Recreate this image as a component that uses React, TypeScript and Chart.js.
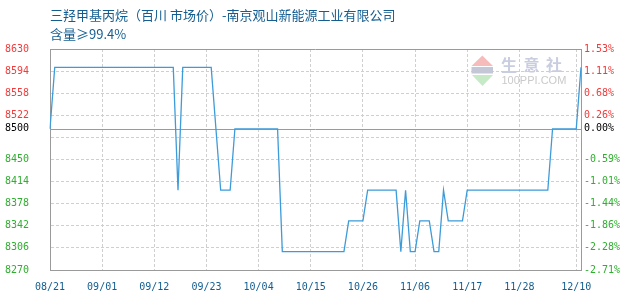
import { useEffect, useRef } from "react";
import { Chart, registerables } from "chart.js";

Chart.register(...registerables);

const TITLE = "三羟甲基丙烷（百川 市场价）-南京观山新能源工业有限公司";
const SUBTITLE = "含量≥99.4%";

// first trading day of the series (UTC), one price per calendar day after it
const START = { year: 2019, month: 8, day: 21 };

// daily market price, yuan/ton
const prices = [
  8500, 8600, 8600, 8600, 8600, 8600, 8600, 8600, 8600, 8600,
  8600, 8600, 8600, 8600, 8600, 8600, 8600, 8600, 8600, 8600,
  8600, 8600, 8600, 8600, 8600, 8600, 8600, 8400, 8600, 8600,
  8600, 8600, 8600, 8600, 8600, 8500, 8400, 8400, 8400, 8500,
  8500, 8500, 8500, 8500, 8500, 8500, 8500, 8500, 8500, 8300,
  8300, 8300, 8300, 8300, 8300, 8300, 8300, 8300, 8300, 8300,
  8300, 8300, 8300, 8350, 8350, 8350, 8350, 8400, 8400, 8400,
  8400, 8400, 8400, 8400, 8300, 8400, 8300, 8300, 8350, 8350,
  8350, 8300, 8300, 8400, 8350, 8350, 8350, 8350, 8400, 8400,
  8400, 8400, 8400, 8400, 8400, 8400, 8400, 8400, 8400, 8400,
  8400, 8400, 8400, 8400, 8400, 8400, 8500, 8500, 8500, 8500,
  8500, 8500, 8600,
];

const xTickLabels = [
  "08/21", "09/01", "09/12", "09/23", "10/04", "10/15",
  "10/26", "11/06", "11/17", "11/28", "12/10",
];

const yGridValues = [
  8630, 8594, 8558, 8522, 8486, 8450, 8414, 8378, 8342, 8306, 8270,
];

const Y_MIN = 8270;
const Y_MAX = 8630;

const BASE = prices[0];

const RED = "#f23a3a";
const GREEN = "#2fae2f";
const BLUE_TEXT = "#135d90";
const LINE = "#3d9bd9";
const GRID = "#cfcfcf";
const FRAME = "#9a9a9a";
const MONO = "'DejaVu Sans Mono', monospace";
const CJK = "'Noto Sans CJK SC', sans-serif";

function buildDates(count: number): string[] {
  const out: string[] = [];
  const t0 = Date.UTC(START.year, START.month - 1, START.day);
  for (let i = 0; i < count; i++) {
    const d = new Date(t0 + i * 86400000);
    const mm = String(d.getUTCMonth() + 1).padStart(2, "0");
    const dd = String(d.getUTCDate()).padStart(2, "0");
    out.push(`${mm}/${dd}`);
  }
  return out;
}

const dates = buildDates(prices.length);

// y ticks: the regular grid plus the base price; grid values too close to
// the base are kept as lines but left unlabeled
const yTickValues = [...yGridValues, BASE].sort((a, b) => b - a);
const isHiddenLabel = (v: number) => v !== BASE && Math.abs(v - BASE) < 20;

const tickColor = (v: number) => (v > BASE ? RED : v < BASE ? GREEN : "#000");

const pct = (v: number) => (((v - BASE) / BASE) * 100).toFixed(2) + "%";

const decorPlugin = {
  id: "decor",
  beforeDraw(chart: any) {
    const { ctx } = chart;
    ctx.save();
    ctx.fillStyle = "#ffffff";
    ctx.fillRect(0, 0, chart.width, chart.height);
    ctx.fillStyle = BLUE_TEXT;
    ctx.textBaseline = "middle";
    ctx.textAlign = "left";
    ctx.font = `13px ${CJK}`;
    ctx.fillText(TITLE, 50, 15);
    ctx.fillText(SUBTITLE, 50, 34.5);
    ctx.restore();
  },
  beforeDatasetsDraw(chart: any) {
    const { ctx, chartArea: a, scales } = chart;
    ctx.save();

    // site mark
    ctx.fillStyle = "#f6bcbc";
    ctx.beginPath();
    ctx.moveTo(471.5, 66);
    ctx.lineTo(493, 66);
    ctx.lineTo(482.3, 55.5);
    ctx.closePath();
    ctx.fill();
    ctx.fillStyle = "#c3c7d6";
    ctx.fillRect(471.5, 67, 21.5, 6.5);
    ctx.fillStyle = "#c6eac6";
    ctx.beginPath();
    ctx.moveTo(472, 75);
    ctx.lineTo(493, 75);
    ctx.lineTo(482.5, 86);
    ctx.closePath();
    ctx.fill();
    ctx.fillStyle = "#c9cde0";
    ctx.font = `bold 16px ${CJK}`;
    ctx.textBaseline = "middle";
    ctx.textAlign = "left";
    ["生", "意", "社"].forEach((ch, i) => ctx.fillText(ch, 501 + i * 22.5, 65));
    ctx.fillStyle = "#cacaca";
    ctx.font = "11px 'Liberation Sans', sans-serif";
    ctx.fillText("100PPI.COM", 501.5, 80.5);

    // base price line and top edge of the plot frame
    ctx.strokeStyle = FRAME;
    ctx.lineWidth = 1;
    const yb = Math.round(scales.y.getPixelForValue(BASE)) + 0.5;
    ctx.beginPath();
    ctx.moveTo(a.left, yb);
    ctx.lineTo(a.right, yb);
    const yt = Math.round(a.top) + 0.5;
    ctx.moveTo(a.left, yt);
    ctx.lineTo(a.right, yt);
    ctx.stroke();
    ctx.restore();
  },
};

function yScaleCommon() {
  return {
    type: "linear" as const,
    min: Y_MIN,
    max: Y_MAX,
    afterBuildTicks: (s: any) => {
      s.ticks = yTickValues.map((v) => ({ value: v }));
    },
  };
}

export default function App() {
  const ref = useRef<HTMLCanvasElement | null>(null);

  useEffect(() => {
    document.body.style.margin = "0";
    const canvas = ref.current;
    if (!canvas) return;

    const chart = new Chart(canvas, {
      type: "line",
      data: {
        labels: dates,
        datasets: [
          {
            data: prices,
            borderColor: LINE,
            borderWidth: 1.3,
            pointRadius: 0,
            tension: 0,
            fill: false,
            yAxisID: "y",
          },
        ],
      },
      options: {
        responsive: false,
        animation: false,
        events: [],
        layout: { padding: { left: 5, top: 49, right: 0, bottom: 0 } },
        plugins: {
          legend: { display: false },
          tooltip: { enabled: false },
          title: { display: false },
        },
        scales: {
          x: {
            type: "category",
            offset: false,
            afterBuildTicks: (s: any) => {
              s.ticks = s.ticks.filter((t: any) =>
                xTickLabels.includes(dates[t.value])
              );
            },
            afterFit: (s: any) => {
              s.height = 30;
            },
            grid: {
              color: (c: any) =>
                c.tick && c.tick.value === 0 ? "rgba(0,0,0,0)" : GRID,
              lineWidth: 1,
              drawTicks: false,
            },
            border: { display: true, color: FRAME, width: 1, dash: [3, 2] },
            ticks: {
              autoSkip: false,
              maxRotation: 0,
              minRotation: 0,
              padding: 11,
              color: BLUE_TEXT,
              font: { family: MONO, size: 10 },
            },
          },
          y: {
            ...yScaleCommon(),
            position: "left",
            afterFit: (s: any) => {
              s.width = 45;
            },
            grid: {
              color: (c: any) => {
                const v = c.tick ? c.tick.value : null;
                return v === BASE || v === Y_MIN || v === Y_MAX
                  ? "rgba(0,0,0,0)"
                  : GRID;
              },
              lineWidth: 1,
              drawTicks: false,
            },
            border: { display: true, color: FRAME, width: 1, dash: [3, 2] },
            ticks: {
              crossAlign: "far",
              padding: 0,
              color: (c: any) => tickColor(c.tick.value),
              font: { family: MONO, size: 10 },
              callback: (v: any) => (isHiddenLabel(v) ? "" : String(v)),
            },
          },
          y1: {
            ...yScaleCommon(),
            position: "right",
            afterFit: (s: any) => {
              s.width = 49;
            },
            grid: { drawOnChartArea: false, drawTicks: false },
            border: { display: true, color: FRAME, width: 1 },
            ticks: {
              crossAlign: "near",
              padding: 3,
              color: (c: any) => tickColor(c.tick.value),
              font: { family: MONO, size: 10 },
              callback: (v: any) => (isHiddenLabel(v) ? "" : pct(v)),
            },
          },
        },
      } as any,
      plugins: [decorPlugin],
    });

    return () => chart.destroy();
  }, []);

  return (
    <div style={{ width: 630, height: 300 }}>
      <canvas ref={ref} width={630} height={300} />
    </div>
  );
}
